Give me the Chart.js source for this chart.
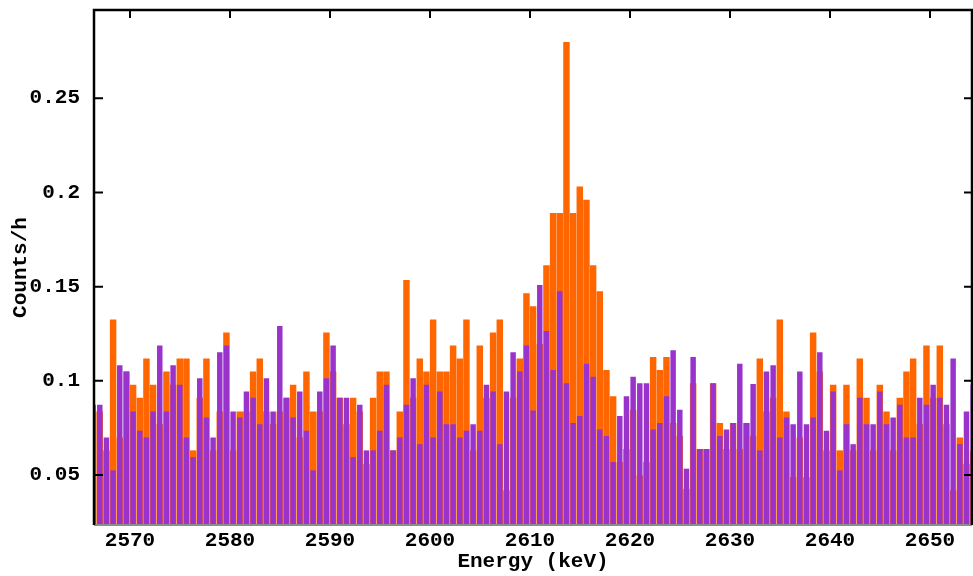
<!DOCTYPE html>
<html>
<head>
<meta charset="utf-8">
<script src="https://cdn.jsdelivr.net/npm/chart.js@4.4.0/dist/chart.umd.min.js"></script>
<style>
  body { margin: 0; background: #fff; }
  #wrap { width: 973px; height: 576px; }
</style>
</head>
<body>
<div id="wrap"><canvas id="myChart"></canvas></div>
<script>
// histogram bins (keV)
var binStart = 2566.31;
var binWidth = 0.6667;

// orange series (counts/h)
var countsOrange = [
  0.0837, 0.0837, 0.0631, 0.1325, 0.0700, 0.1049, 0.0979, 0.0910, 0.1118, 0.0979,
  0.0770, 0.1049, 0.0979, 0.1118, 0.1118, 0.0631, 0.0910, 0.1118, 0.0631, 0.0837,
  0.1256, 0.0631, 0.0837, 0.0837, 0.1049, 0.1118, 0.0837, 0.0770, 0.0837, 0.0910,
  0.0979, 0.0700, 0.1049, 0.0837, 0.0837, 0.1256, 0.1049, 0.0910, 0.0770, 0.0910,
  0.0837, 0.0560, 0.0910, 0.1049, 0.1049, 0.0631, 0.0837, 0.1535, 0.0910, 0.1118,
  0.1049, 0.1325, 0.1049, 0.1049, 0.1187, 0.1118, 0.1325, 0.0631, 0.1187, 0.0910,
  0.1256, 0.1325, 0.0419, 0.0910, 0.1118, 0.1465, 0.1396, 0.1195, 0.1613, 0.1891,
  0.1891, 0.2798, 0.1891, 0.2032, 0.1961, 0.1613, 0.1475, 0.1057, 0.0918, 0.0569,
  0.0638, 0.0847, 0.0498, 0.0569, 0.1126, 0.1057, 0.1126, 0.0776, 0.0707, 0.0427,
  0.0987, 0.0638, 0.0638, 0.0987, 0.0776, 0.0638, 0.0776, 0.0638, 0.0776, 0.0707,
  0.1118, 0.0837, 0.0910, 0.1325, 0.0837, 0.0489, 0.0700, 0.0489, 0.1256, 0.1049,
  0.0631, 0.0979, 0.0631, 0.0979, 0.0631, 0.1118, 0.0910, 0.0631, 0.0979, 0.0837,
  0.0631, 0.0910, 0.1049, 0.1118, 0.0770, 0.1187, 0.0910, 0.1187, 0.0770, 0.0419,
  0.0700, 0.0560, 0.0631
];

// purple series (counts/h)
var countsPurple = [
  0.0873, 0.0873, 0.0700, 0.0525, 0.1083, 0.1049, 0.0837, 0.0735, 0.0700, 0.0837,
  0.1187, 0.0837, 0.1083, 0.0979, 0.0700, 0.0595, 0.1014, 0.0806, 0.0700, 0.1152,
  0.1187, 0.0837, 0.0806, 0.0943, 0.0910, 0.0770, 0.1014, 0.0837, 0.1291, 0.0910,
  0.0806, 0.0943, 0.0735, 0.0525, 0.0943, 0.1014, 0.1187, 0.0910, 0.0910, 0.0595,
  0.0873, 0.0631, 0.0631, 0.0735, 0.0979, 0.0631, 0.0700, 0.0873, 0.1014, 0.0664,
  0.0979, 0.0700, 0.0943, 0.0770, 0.0770, 0.0700, 0.0735, 0.0770, 0.0735, 0.0979,
  0.0943, 0.0664, 0.0943, 0.1152, 0.1049, 0.1187, 0.0842, 0.1508, 0.1264, 0.1057,
  0.1475, 0.0987, 0.0776, 0.0813, 0.1091, 0.1022, 0.0742, 0.0707, 0.0569, 0.0813,
  0.0918, 0.1022, 0.0987, 0.0987, 0.0742, 0.0776, 0.0918, 0.1162, 0.0847, 0.0534,
  0.1126, 0.0638, 0.0638, 0.0987, 0.0707, 0.0742, 0.0776, 0.1091, 0.0776, 0.0983,
  0.0631, 0.1049, 0.1083, 0.0700, 0.0806, 0.0770, 0.1049, 0.0770, 0.0806, 0.1152,
  0.0735, 0.0943, 0.0525, 0.0770, 0.0664, 0.0910, 0.0770, 0.0770, 0.0943, 0.0770,
  0.0806, 0.0873, 0.0700, 0.0700, 0.0910, 0.0873, 0.0979, 0.0910, 0.0873, 0.1118,
  0.0664, 0.0837, 0.0979
];

var xTicks = [2570, 2580, 2590, 2600, 2610, 2620, 2630, 2640, 2650];
var yTicks = [0.05, 0.1, 0.15, 0.2, 0.25];

var energies = countsOrange.map(function(v, i) { return binStart + i * binWidth; });

function points(arr) {
  return arr.map(function(v, i) { return { x: energies[i], y: v }; });
}

var monoFont = { family: "'Liberation Mono', 'DejaVu Sans Mono', monospace", weight: 'bold', size: 21 };

// box frame with inward ticks
var framePlugin = {
  id: 'frame',
  afterDatasetsDraw: function(chart) {
    var ctx = chart.ctx, a = chart.chartArea;
    var xs = chart.scales.x, ys = chart.scales.y;
    ctx.save();
    ctx.strokeStyle = '#8c8c8c';
    ctx.lineWidth = 2;
    ctx.beginPath();
    ctx.moveTo(a.left, a.bottom);
    ctx.lineTo(a.right, a.bottom);
    ctx.stroke();

    ctx.strokeStyle = '#000';
    ctx.lineWidth = 2.5;
    ctx.beginPath();
    ctx.moveTo(a.left, a.bottom);
    ctx.lineTo(a.left, a.top);
    ctx.lineTo(a.right, a.top);
    ctx.lineTo(a.right, a.bottom);
    ctx.stroke();

    ctx.lineWidth = 2;
    ctx.beginPath();
    xTicks.forEach(function(t) {
      var px = xs.getPixelForValue(t);
      ctx.moveTo(px, a.top);
      ctx.lineTo(px, a.top + 8);
    });
    yTicks.forEach(function(t) {
      var py = ys.getPixelForValue(t);
      ctx.moveTo(a.left, py);
      ctx.lineTo(a.left + 9, py);
      ctx.moveTo(a.right, py);
      ctx.lineTo(a.right - 8, py);
    });
    ctx.stroke();
    ctx.restore();
  }
};

var ctx = document.getElementById('myChart').getContext('2d');
var myChart = new Chart(ctx, {
  type: 'bar',
  data: {
    datasets: [{
      label: 'purple',
      data: points(countsPurple),
      backgroundColor: '#9933cc',
      grouped: false,
      barPercentage: 0.82,
      categoryPercentage: 1,
      order: 1
    }, {
      label: 'orange',
      data: points(countsOrange),
      backgroundColor: '#ff6600',
      grouped: false,
      barPercentage: 0.97,
      categoryPercentage: 1,
      order: 2
    }]
  },
  options: {
    responsive: true,
    maintainAspectRatio: false,
    animation: false,
    layout: { padding: { top: 10, right: 1, left: 0, bottom: 0 } },
    plugins: {
      legend: { display: false },
      tooltip: { enabled: false }
    },
    scales: {
      x: {
        type: 'linear',
        offset: false,
        min: 2566.4,
        max: 2654.2,
        grid: { display: false },
        border: { display: false },
        afterFit: function(s) {
          s.height = 51;
          s.paddingLeft = 0;
          s.paddingRight = 0;
        },
        afterBuildTicks: function(s) { s.ticks = xTicks.map(function(v) { return { value: v }; }); },
        ticks: {
          color: '#000',
          font: monoFont,
          padding: -5,
          maxRotation: 0,
          autoSkip: false,
          callback: function(v) { return String(v); }
        },
        title: {
          display: true,
          text: 'Energy (keV)',
          color: '#000',
          font: monoFont,
          padding: { top: 0, bottom: 2 }
        }
      },
      y: {
        min: 0.0235,
        max: 0.2968,
        grid: { display: false },
        border: { display: false },
        afterFit: function(s) {
          s.width = 94;
          s.paddingTop = 0;
          s.paddingBottom = 0;
        },
        afterBuildTicks: function(s) { s.ticks = yTicks.map(function(v) { return { value: v }; }); },
        ticks: {
          color: '#000',
          font: monoFont,
          padding: 6,
          callback: function(v) { return String(v); }
        },
        title: {
          display: true,
          text: 'Counts/h',
          color: '#000',
          font: monoFont,
          padding: { top: 8, bottom: 0 }
        }
      }
    }
  },
  plugins: [framePlugin]
});
</script>
</body>
</html>
